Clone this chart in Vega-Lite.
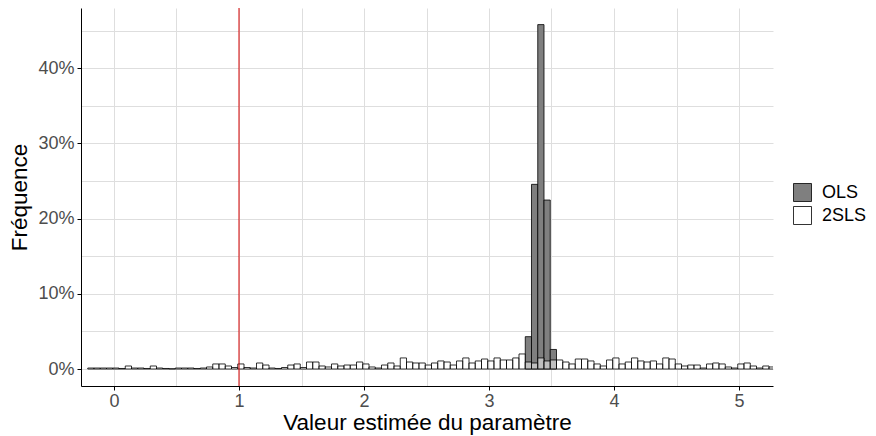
{
  "$schema": "https://vega.github.io/schema/vega-lite/v6.json",
  "width": 692,
  "height": 378,
  "autosize": {"type": "none"},
  "padding": {"left": 81, "top": 8, "right": 103, "bottom": 50},
  "background": "white",
  "config": {
    "font": "Liberation Sans",
    "view": {"stroke": null},
    "axis": {
      "domainColor": "black",
      "domainWidth": 1,
      "tickColor": "black",
      "tickSize": 4,
      "tickWidth": 1,
      "labelFontSize": 18,
      "labelColor": "#4d4d4d",
      "labelPadding": 3,
      "titleFontSize": 22.5,
      "titleFontWeight": "normal",
      "titleColor": "black",
      "gridColor": "#dedede",
      "gridWidth": 1
    }
  },
  "layer": [
    {
      "data": {
        "values": [
          {"series": "OLS", "x0": 3.29, "x1": 3.34, "freq": 0.043},
          {"series": "OLS", "x0": 3.34, "x1": 3.39, "freq": 0.2456},
          {"series": "OLS", "x0": 3.39, "x1": 3.44, "freq": 0.458},
          {"series": "OLS", "x0": 3.44, "x1": 3.49, "freq": 0.2247},
          {"series": "OLS", "x0": 3.49, "x1": 3.54, "freq": 0.026},
          {"series": "2SLS", "x0": -0.21, "x1": -0.16, "freq": 0.0013},
          {"series": "2SLS", "x0": -0.16, "x1": -0.11, "freq": 0.0013},
          {"series": "2SLS", "x0": -0.11, "x1": -0.06, "freq": 0.0013},
          {"series": "2SLS", "x0": -0.06, "x1": -0.01, "freq": 0.0013},
          {"series": "2SLS", "x0": -0.01, "x1": 0.04, "freq": 0.0013},
          {"series": "2SLS", "x0": 0.04, "x1": 0.09, "freq": 0.0007},
          {"series": "2SLS", "x0": 0.09, "x1": 0.14, "freq": 0.004},
          {"series": "2SLS", "x0": 0.14, "x1": 0.19, "freq": 0.0013},
          {"series": "2SLS", "x0": 0.19, "x1": 0.24, "freq": 0.0013},
          {"series": "2SLS", "x0": 0.24, "x1": 0.29, "freq": 0.0007},
          {"series": "2SLS", "x0": 0.29, "x1": 0.34, "freq": 0.004},
          {"series": "2SLS", "x0": 0.34, "x1": 0.39, "freq": 0.0013},
          {"series": "2SLS", "x0": 0.39, "x1": 0.44, "freq": 0.0007},
          {"series": "2SLS", "x0": 0.44, "x1": 0.49, "freq": 0.0003},
          {"series": "2SLS", "x0": 0.49, "x1": 0.54, "freq": 0.0013},
          {"series": "2SLS", "x0": 0.54, "x1": 0.59, "freq": 0.0013},
          {"series": "2SLS", "x0": 0.59, "x1": 0.64, "freq": 0.0013},
          {"series": "2SLS", "x0": 0.64, "x1": 0.69, "freq": 0.0007},
          {"series": "2SLS", "x0": 0.69, "x1": 0.74, "freq": 0.0013},
          {"series": "2SLS", "x0": 0.74, "x1": 0.79, "freq": 0.0027},
          {"series": "2SLS", "x0": 0.79, "x1": 0.84, "freq": 0.0067},
          {"series": "2SLS", "x0": 0.84, "x1": 0.89, "freq": 0.0067},
          {"series": "2SLS", "x0": 0.89, "x1": 0.94, "freq": 0.004},
          {"series": "2SLS", "x0": 0.94, "x1": 0.99, "freq": 0.002},
          {"series": "2SLS", "x0": 0.99, "x1": 1.04, "freq": 0.0067},
          {"series": "2SLS", "x0": 1.04, "x1": 1.09, "freq": 0.002},
          {"series": "2SLS", "x0": 1.09, "x1": 1.14, "freq": 0.0013},
          {"series": "2SLS", "x0": 1.14, "x1": 1.19, "freq": 0.008},
          {"series": "2SLS", "x0": 1.19, "x1": 1.24, "freq": 0.0053},
          {"series": "2SLS", "x0": 1.24, "x1": 1.29, "freq": 0.0013},
          {"series": "2SLS", "x0": 1.29, "x1": 1.34, "freq": 0.0007},
          {"series": "2SLS", "x0": 1.34, "x1": 1.39, "freq": 0.002},
          {"series": "2SLS", "x0": 1.39, "x1": 1.44, "freq": 0.0053},
          {"series": "2SLS", "x0": 1.44, "x1": 1.49, "freq": 0.0067},
          {"series": "2SLS", "x0": 1.49, "x1": 1.54, "freq": 0.002},
          {"series": "2SLS", "x0": 1.54, "x1": 1.59, "freq": 0.0093},
          {"series": "2SLS", "x0": 1.59, "x1": 1.64, "freq": 0.0093},
          {"series": "2SLS", "x0": 1.64, "x1": 1.69, "freq": 0.004},
          {"series": "2SLS", "x0": 1.69, "x1": 1.74, "freq": 0.0027},
          {"series": "2SLS", "x0": 1.74, "x1": 1.79, "freq": 0.0067},
          {"series": "2SLS", "x0": 1.79, "x1": 1.84, "freq": 0.004},
          {"series": "2SLS", "x0": 1.84, "x1": 1.89, "freq": 0.0053},
          {"series": "2SLS", "x0": 1.89, "x1": 1.94, "freq": 0.0053},
          {"series": "2SLS", "x0": 1.94, "x1": 1.99, "freq": 0.0093},
          {"series": "2SLS", "x0": 1.99, "x1": 2.04, "freq": 0.0067},
          {"series": "2SLS", "x0": 2.04, "x1": 2.09, "freq": 0.0027},
          {"series": "2SLS", "x0": 2.09, "x1": 2.14, "freq": 0.0013},
          {"series": "2SLS", "x0": 2.14, "x1": 2.19, "freq": 0.0053},
          {"series": "2SLS", "x0": 2.19, "x1": 2.24, "freq": 0.008},
          {"series": "2SLS", "x0": 2.24, "x1": 2.29, "freq": 0.004},
          {"series": "2SLS", "x0": 2.29, "x1": 2.34, "freq": 0.0147},
          {"series": "2SLS", "x0": 2.34, "x1": 2.39, "freq": 0.0093},
          {"series": "2SLS", "x0": 2.39, "x1": 2.44, "freq": 0.008},
          {"series": "2SLS", "x0": 2.44, "x1": 2.49, "freq": 0.008},
          {"series": "2SLS", "x0": 2.49, "x1": 2.54, "freq": 0.0053},
          {"series": "2SLS", "x0": 2.54, "x1": 2.59, "freq": 0.008},
          {"series": "2SLS", "x0": 2.59, "x1": 2.64, "freq": 0.0107},
          {"series": "2SLS", "x0": 2.64, "x1": 2.69, "freq": 0.0093},
          {"series": "2SLS", "x0": 2.69, "x1": 2.74, "freq": 0.0053},
          {"series": "2SLS", "x0": 2.74, "x1": 2.79, "freq": 0.0107},
          {"series": "2SLS", "x0": 2.79, "x1": 2.84, "freq": 0.0147},
          {"series": "2SLS", "x0": 2.84, "x1": 2.89, "freq": 0.008},
          {"series": "2SLS", "x0": 2.89, "x1": 2.94, "freq": 0.0107},
          {"series": "2SLS", "x0": 2.94, "x1": 2.99, "freq": 0.0133},
          {"series": "2SLS", "x0": 2.99, "x1": 3.04, "freq": 0.0107},
          {"series": "2SLS", "x0": 3.04, "x1": 3.09, "freq": 0.0147},
          {"series": "2SLS", "x0": 3.09, "x1": 3.14, "freq": 0.012},
          {"series": "2SLS", "x0": 3.14, "x1": 3.19, "freq": 0.012},
          {"series": "2SLS", "x0": 3.19, "x1": 3.24, "freq": 0.0147},
          {"series": "2SLS", "x0": 3.24, "x1": 3.29, "freq": 0.02},
          {"series": "2SLS", "x0": 3.29, "x1": 3.34, "freq": 0.0093},
          {"series": "2SLS", "x0": 3.34, "x1": 3.39, "freq": 0.008},
          {"series": "2SLS", "x0": 3.39, "x1": 3.44, "freq": 0.0147},
          {"series": "2SLS", "x0": 3.44, "x1": 3.49, "freq": 0.0107},
          {"series": "2SLS", "x0": 3.49, "x1": 3.54, "freq": 0.012},
          {"series": "2SLS", "x0": 3.54, "x1": 3.59, "freq": 0.012},
          {"series": "2SLS", "x0": 3.59, "x1": 3.64, "freq": 0.0093},
          {"series": "2SLS", "x0": 3.64, "x1": 3.69, "freq": 0.0067},
          {"series": "2SLS", "x0": 3.69, "x1": 3.74, "freq": 0.0133},
          {"series": "2SLS", "x0": 3.74, "x1": 3.79, "freq": 0.0133},
          {"series": "2SLS", "x0": 3.79, "x1": 3.84, "freq": 0.0107},
          {"series": "2SLS", "x0": 3.84, "x1": 3.89, "freq": 0.0067},
          {"series": "2SLS", "x0": 3.89, "x1": 3.94, "freq": 0.004},
          {"series": "2SLS", "x0": 3.94, "x1": 3.99, "freq": 0.012},
          {"series": "2SLS", "x0": 3.99, "x1": 4.04, "freq": 0.0147},
          {"series": "2SLS", "x0": 4.04, "x1": 4.09, "freq": 0.0067},
          {"series": "2SLS", "x0": 4.09, "x1": 4.14, "freq": 0.0093},
          {"series": "2SLS", "x0": 4.14, "x1": 4.19, "freq": 0.0147},
          {"series": "2SLS", "x0": 4.19, "x1": 4.24, "freq": 0.0107},
          {"series": "2SLS", "x0": 4.24, "x1": 4.29, "freq": 0.0093},
          {"series": "2SLS", "x0": 4.29, "x1": 4.34, "freq": 0.0107},
          {"series": "2SLS", "x0": 4.34, "x1": 4.39, "freq": 0.0067},
          {"series": "2SLS", "x0": 4.39, "x1": 4.44, "freq": 0.0147},
          {"series": "2SLS", "x0": 4.44, "x1": 4.49, "freq": 0.0133},
          {"series": "2SLS", "x0": 4.49, "x1": 4.54, "freq": 0.0067},
          {"series": "2SLS", "x0": 4.54, "x1": 4.59, "freq": 0.004},
          {"series": "2SLS", "x0": 4.59, "x1": 4.64, "freq": 0.0053},
          {"series": "2SLS", "x0": 4.64, "x1": 4.69, "freq": 0.0053},
          {"series": "2SLS", "x0": 4.69, "x1": 4.74, "freq": 0.0013},
          {"series": "2SLS", "x0": 4.74, "x1": 4.79, "freq": 0.0067},
          {"series": "2SLS", "x0": 4.79, "x1": 4.84, "freq": 0.008},
          {"series": "2SLS", "x0": 4.84, "x1": 4.89, "freq": 0.0067},
          {"series": "2SLS", "x0": 4.89, "x1": 4.94, "freq": 0.0027},
          {"series": "2SLS", "x0": 4.94, "x1": 4.99, "freq": 0.0013},
          {"series": "2SLS", "x0": 4.99, "x1": 5.04, "freq": 0.0067},
          {"series": "2SLS", "x0": 5.04, "x1": 5.09, "freq": 0.008},
          {"series": "2SLS", "x0": 5.09, "x1": 5.14, "freq": 0.004},
          {"series": "2SLS", "x0": 5.14, "x1": 5.19, "freq": 0.0013},
          {"series": "2SLS", "x0": 5.19, "x1": 5.24, "freq": 0.004},
          {"series": "2SLS", "x0": 5.24, "x1": 5.29, "freq": 0.0027}
        ]
      },
      "mark": {"type": "bar", "stroke": "black", "strokeWidth": 0.8, "clip": true},
      "encoding": {
        "x": {
          "field": "x0",
          "type": "quantitative",
          "scale": {"domain": [-0.264, 5.272], "nice": false, "zero": false},
          "axis": {
            "title": "Valeur estimée du paramètre",
            "values": [0, 0.5, 1, 1.5, 2, 2.5, 3, 3.5, 4, 4.5, 5],
            "labelExpr": "round(datum.value*2) % 2 == 0 ? format(datum.value, 'd') : ''",
            "tickOpacity": {"condition": {"test": "round(datum.value*2) % 2 != 0", "value": 0}, "value": 1},
            "labelPadding": 2,
            "titleBaseline": "alphabetic",
            "titleY": 43
          }
        },
        "x2": {"field": "x1"},
        "y": {
          "field": "freq",
          "type": "quantitative",
          "scale": {"domain": [-0.0226, 0.4801], "nice": false, "zero": false},
          "axis": {
            "title": "Fréquence",
            "values": [0, 0.05, 0.1, 0.15, 0.2, 0.25, 0.3, 0.35, 0.4, 0.45],
            "labelExpr": "round(datum.value*20) % 2 == 0 ? format(datum.value, '.0%') : ''",
            "tickOpacity": {"condition": {"test": "round(datum.value*20) % 2 != 0", "value": 0}, "value": 1},
            "titlePadding": 6
          }
        },
        "y2": {"datum": 0},
        "color": {
          "field": "series",
          "type": "nominal",
          "scale": {"domain": ["OLS", "2SLS"], "range": ["#7f7f7f", "rgba(255,255,255,0.5)"]},
          "legend": {
            "title": null,
            "orient": "none",
            "legendX": 712,
            "legendY": 175,
            "symbolType": "square",
            "symbolSize": 324,
            "symbolStrokeColor": "black",
            "symbolStrokeWidth": 0.8,
            "labelFontSize": 18,
            "labelColor": "black",
            "labelOffset": 10,
            "rowPadding": 0,
            "padding": 0
          }
        }
      }
    },
    {
      "data": {"values": [{"truth": 1}]},
      "mark": {"type": "rule", "color": "#d40000", "strokeWidth": 1},
      "encoding": {"x": {"field": "truth", "type": "quantitative"}}
    }
  ]
}
